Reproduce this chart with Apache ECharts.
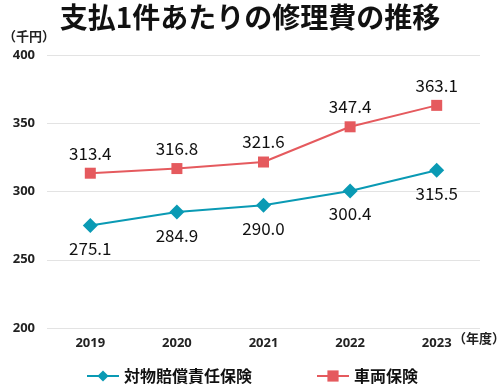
<!DOCTYPE html>
<html><head><meta charset="utf-8">
<script src="https://cdn.jsdelivr.net/npm/echarts@6/dist/echarts.min.js"></script>
<style>html,body{margin:0;padding:0;background:#fff}#c{width:500px;height:389px}</style>
</head><body><div id="c"></div>
<script>
const categories = ['2019','2020','2021','2022','2023'];
const taibutsu = [275.1, 284.9, 290.0, 300.4, 315.5];
const sharyo = [313.4, 316.8, 321.6, 347.4, 363.1];
const yTicks = [200, 250, 300, 350, 400];
const FONT = '"Noto Sans CJK JP", "Noto Sans", sans-serif';
const NUMFONT = '"Noto Sans", "Noto Sans CJK JP", sans-serif';
const chart = echarts.init(document.getElementById('c'));
chart.setOption({
  animation: false,
  textStyle: {fontFamily: FONT},
  title: {text: '支払1件あたりの修理費の推移', left: 'center', top: -2,
    textStyle: {fontFamily: FONT, fontSize: 28, fontWeight: 'bold', color: '#111'}},
  graphic: [
    {type: 'text', left: 3, top: 30, style: {text: '（千円）', font: 'bold 13px ' + FONT, fill: '#222'}},
    {type: 'text', left: 453, top: 332, style: {text: '（年度）', font: 'bold 13px ' + FONT, fill: '#222'}}
  ],
  grid: {left: 47, right: 20, top: 55, bottom: 61},
  legend: {bottom: 0, left: 81, itemWidth: 32, itemHeight: 14, itemGap: 64,
    textStyle: {fontFamily: FONT, fontSize: 16, fontWeight: 'bold', color: '#111'}},
  xAxis: {type: 'category', data: categories, boundaryGap: true,
    axisLine: {show: false}, axisTick: {show: false},
    axisLabel: {fontFamily: NUMFONT, fontSize: 13, fontWeight: 'bold', color: '#222', margin: 9}},
  yAxis: {type: 'value', min: yTicks[0], max: yTicks[yTicks.length-1], interval: 50,
    axisLine: {show: false}, axisTick: {show: false},
    splitLine: {lineStyle: {color: '#e3e3e3', width: 1}},
    axisLabel: {fontFamily: NUMFONT, fontSize: 13, fontWeight: 'bold', color: '#222', margin: 12}},
  series: [
    {name: '対物賠償責任保険', type: 'line', data: taibutsu, symbol: 'diamond', symbolSize: 15,
      itemStyle: {color: '#0a9ab4'}, lineStyle: {width: 2, color: '#0a9ab4'},
      label: {show: true, position: 'bottom', distance: 7, fontFamily: FONT, fontSize: 17, color: '#111',
        formatter: p => p.value.toFixed(1)}},
    {name: '車両保険', type: 'line', data: sharyo, symbol: 'rect', symbolSize: 11,
      itemStyle: {color: '#e55a5e'}, lineStyle: {width: 2, color: '#e55a5e'},
      label: {show: true, position: 'top', distance: 6, fontFamily: FONT, fontSize: 17, color: '#111',
        formatter: p => p.value.toFixed(1)}}
  ]
});
</script></body></html>
